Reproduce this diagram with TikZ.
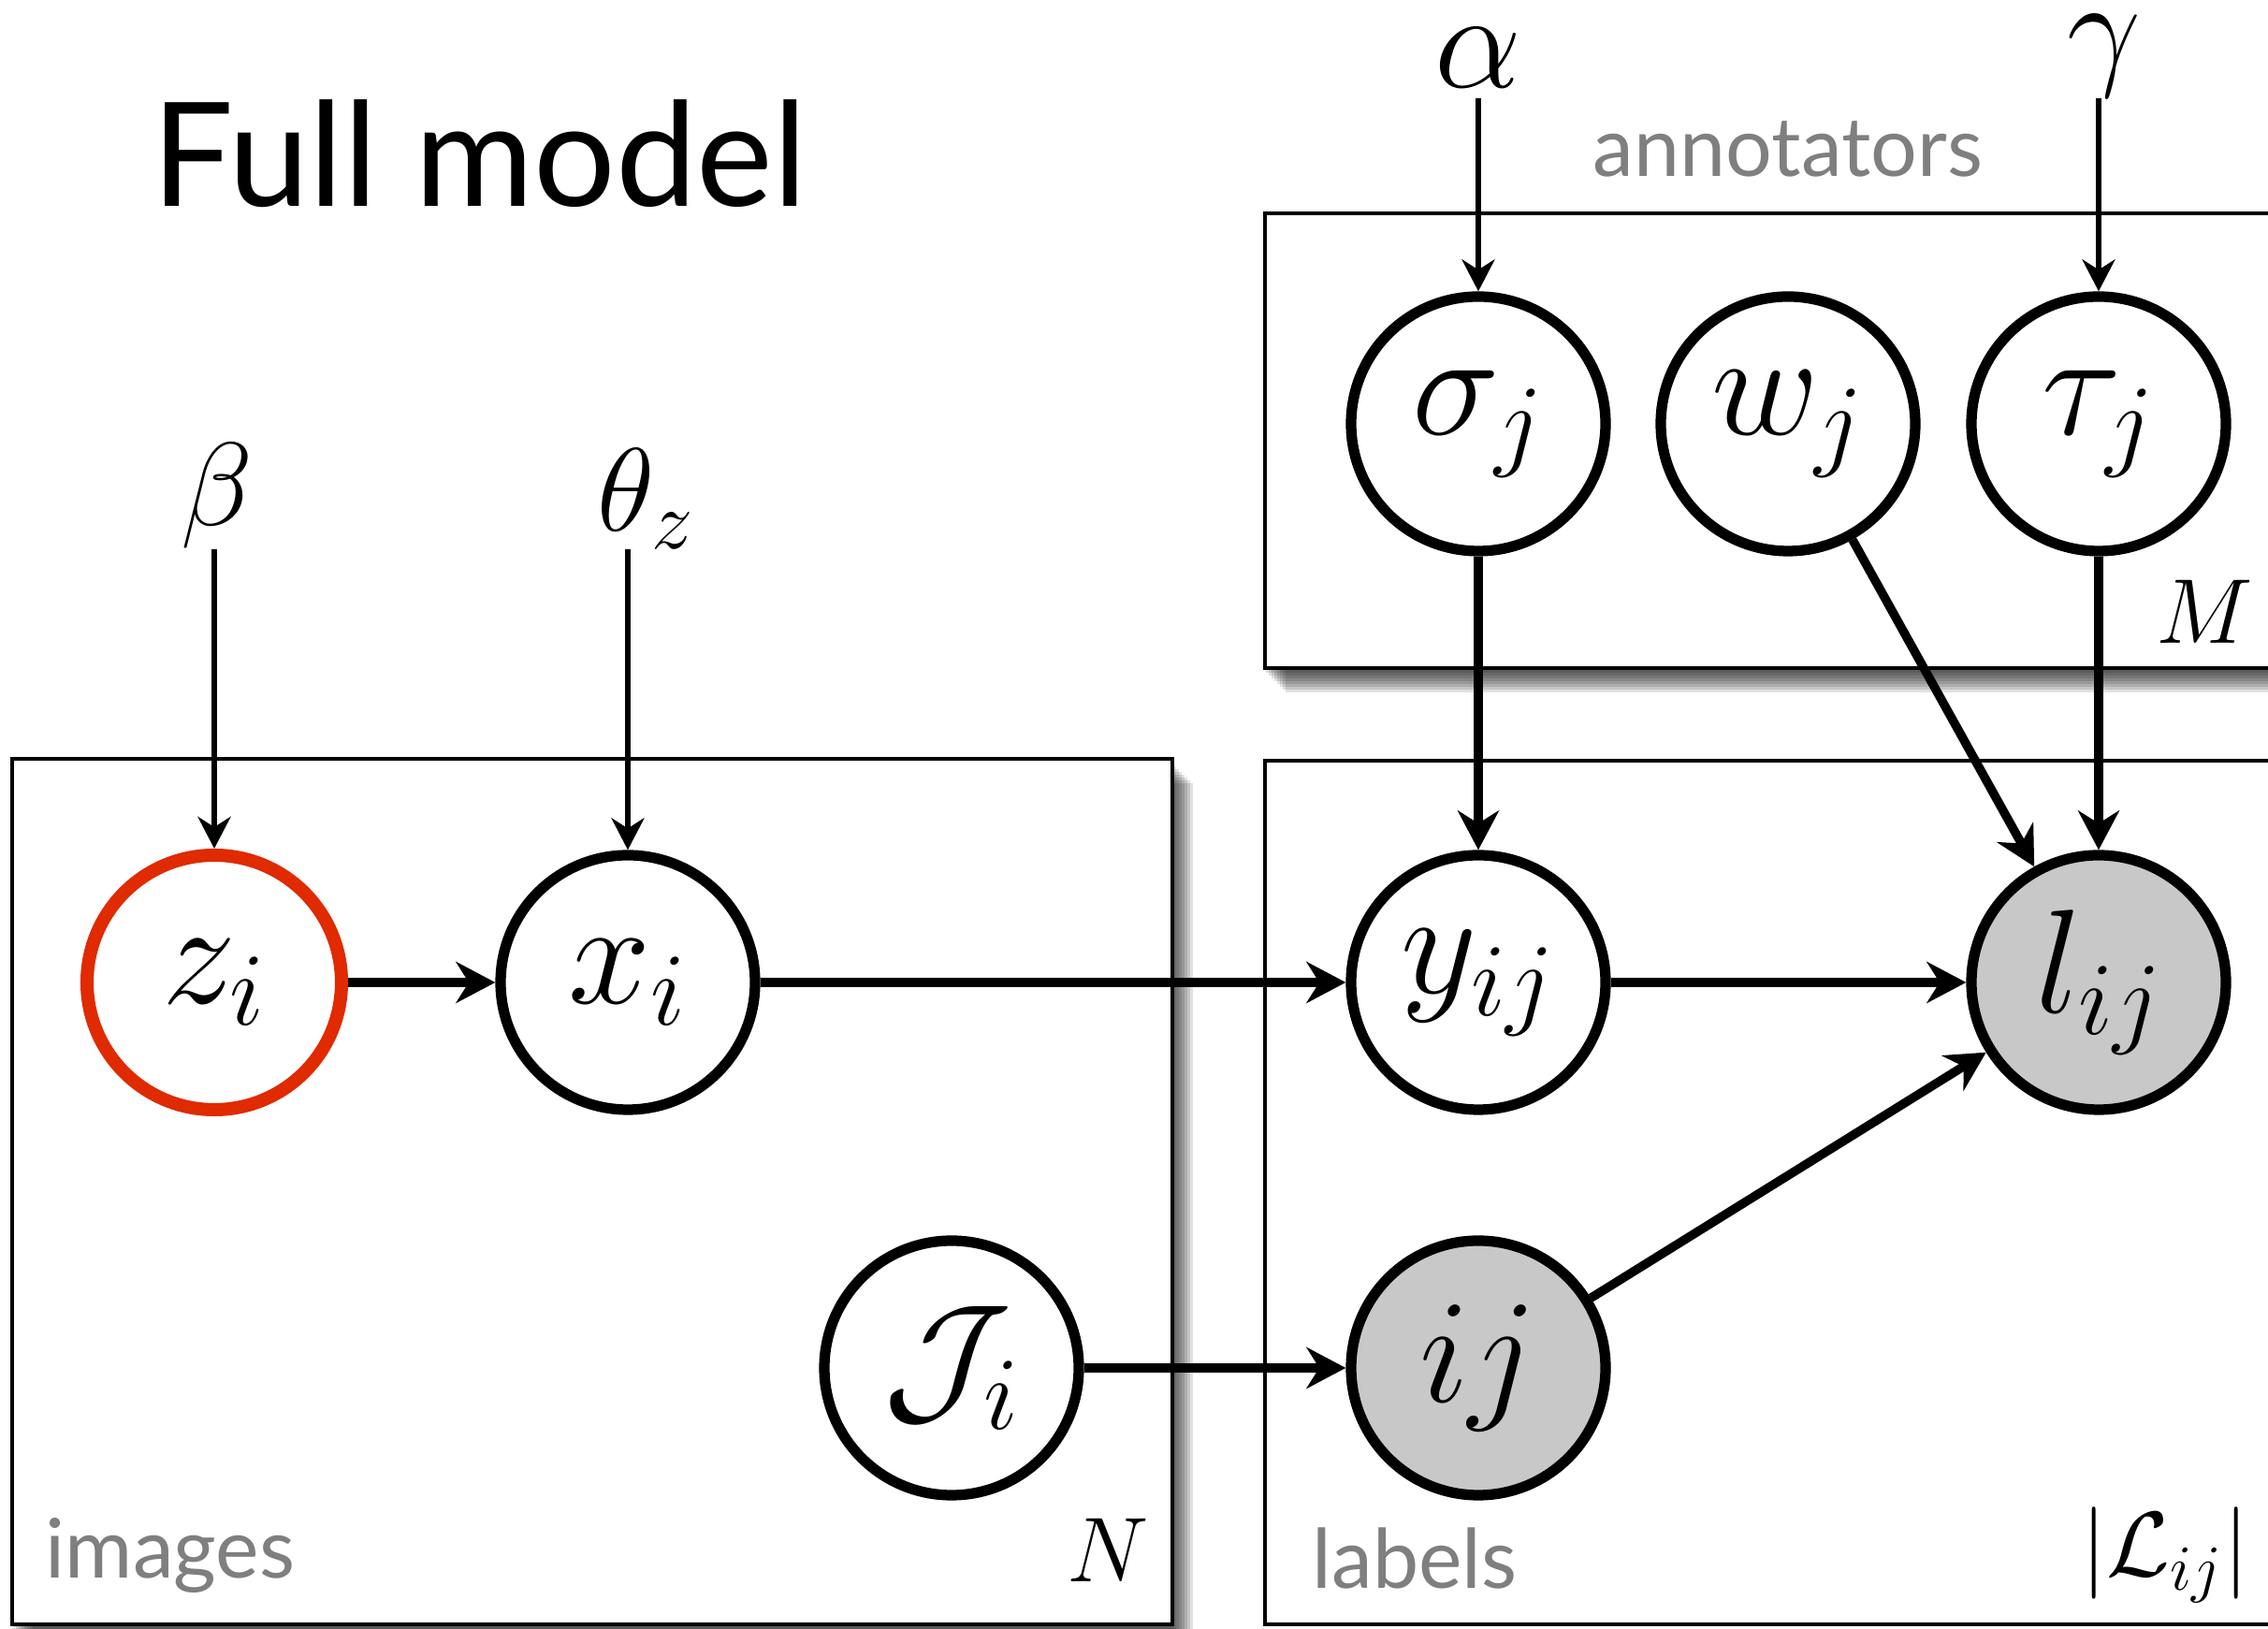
\RequirePackage{fix-cm}
\documentclass[tikz,border=0pt]{standalone}
\usepackage{fontspec}
\setsansfont{Lato}
\usetikzlibrary{arrows.meta,positioning,calc}
\definecolor{zred}{HTML}{E02A00}
\definecolor{obsgray}{HTML}{C8C8C8}
\definecolor{labgray}{HTML}{7F7F7F}

\begin{document}
\begin{tikzpicture}[
  var/.style={circle,draw,line width=3.2pt,minimum size=2.72cm,inner sep=0pt,fill=white,font=\fontsize{45}{54}\selectfont},
  obs/.style={var,fill=obsgray},
  hyper/.style={inner sep=0pt,anchor=south,font=\fontsize{36}{42}\selectfont},
  plate/.style={draw,line width=1.1pt,fill=white,anchor=south west,inner sep=0pt},
  platelabel/.style={font=\sffamily\fontsize{25}{30}\selectfont,text=labgray},
  cornerlabel/.style={font=\fontsize{28}{34}\selectfont},
  arr/.style={-{Stealth[length=4.2mm,width=4.4mm]},line width=2.7pt},
  harr/.style={-{Stealth[length=3.4mm,width=3.5mm]},line width=1.9pt}
]
\useasboundingbox (0,0) rectangle (24.24,17.41);
% soft shadows behind the plates
\foreach \d in {0.03,0.06,0.09,0.12,0.15,0.18,0.21,0.24}{
  \fill[black,opacity=0.12] (0.11+\d,0.03-\d) rectangle (12.51+\d,9.28-\d);
  \fill[black,opacity=0.12] (13.50+\d,10.25-\d) rectangle (24.60+\d,15.11-\d);
}
% plates
\node[plate,minimum width=12.40cm,minimum height=9.25cm] (images) at (0.11,0.03) {};
\node[plate,minimum width=11.00cm,minimum height=9.23cm] (labels) at (13.50,0.03) {};
\node[plate,minimum width=11.00cm,minimum height=4.86cm] (annot) at (13.50,10.25) {};
\node[platelabel] (imglab) at (1.82,0.79) {images};
\node[platelabel] (lablab) at (15.12,0.75) {labels};
\node[platelabel] (annlab) at (19.11,15.82) {annotators};
\node[cornerlabel] (nlab) at (11.84,0.84) {$N$};
\node[cornerlabel] (mlab) at (23.56,10.87) {$M$};
\node[cornerlabel] (llab) at (23.14,0.79) {$|\mathcal{L}_{ij}|$};

\node[anchor=base west,inner sep=0pt,font=\sffamily\fontsize{44}{50}\selectfont] (title) at (1.62,15.20) {Full model};

% variables
\node[var,draw=zred,line width=4pt] (z) at (2.29,6.91) {$z_i$};
\node[var] (x) at (6.71,6.91) {$x_i$};
\node[var] (J) at (10.17,2.79) {$\mathcal{J}_i$};
\node[var] (y) at (15.80,6.91) {$y_{ij}$};
\node[obs] (ij) at (15.80,2.79) {$ij$};
\node[obs] (l) at (22.43,6.91) {$l_{ij}$};
\node[var] (sig) at (15.80,12.88) {$\sigma_j$};
\node[var] (w) at (19.11,12.88) {$w_j$};
\node[var] (tau) at (22.43,12.88) {$\tau_j$};

% hyperparameters
\node[hyper] (beta) at (2.32,11.54) {$\beta$};
\node[hyper,anchor=south west] (theta) at (6.38,11.54) {$\theta_z$};
\node[hyper,inner sep=1.1mm,font=\fontsize{42}{50}\selectfont] (alpha) at (15.80,16.36) {$\alpha$};
\node[hyper,font=\fontsize{40}{48}\selectfont] (gamma) at (22.49,16.36) {$\gamma$};

\draw[harr] (z |- beta.south) -- (z);
\draw[harr] (x |- theta.south) -- (x);
\draw[harr] (alpha) -- (sig);
\draw[harr] (tau |- gamma.south) -- (tau);

\draw[arr] (z) -- (x);
\draw[arr] (x) -- (y);
\draw[arr] (J) -- (ij);
\draw[arr] (y) -- (l);
\draw[arr] (ij) -- (l);
\draw[arr] (sig) -- (y);
\draw[arr] (w) -- (l);
\draw[arr] (tau) -- (l);
\end{tikzpicture}
\end{document}
